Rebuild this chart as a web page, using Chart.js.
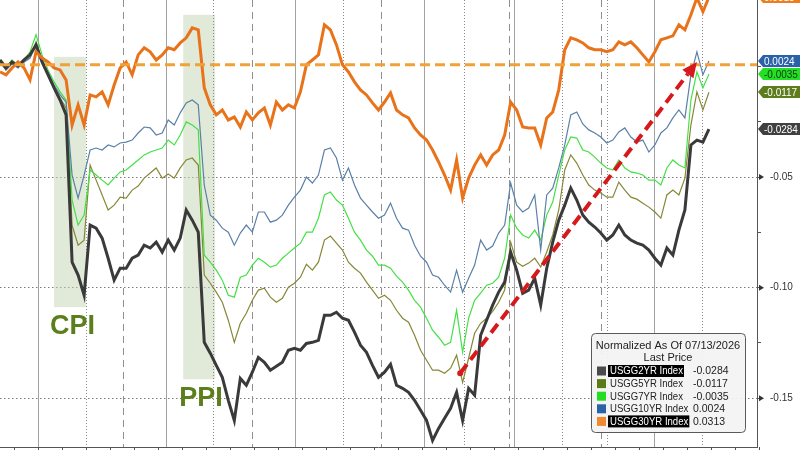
<!DOCTYPE html>
<html>
<head>
<meta charset="utf-8">
<title>USGG curve, normalized</title>
<script src="https://cdn.jsdelivr.net/npm/chart.js@4.4.1/dist/chart.umd.min.js"></script>
<style>
  html, body { margin: 0; padding: 0; background: #fff; }
  #wrap { width: 800px; height: 450px; }
</style>
</head>
<body>
<div id="wrap"><canvas id="chart" width="800" height="450"></canvas></div>
<script>
// Time steps (intraday samples); only the first 119 carry data, the rest is empty space
const steps = Array.from({ length: 127 }, (_, i) => i);

// Normalized yield changes
const usgg2yr = [
    0.0029, -0.0007, 0.0020, 0.0002, 0.0029, 0.0052, 0.0097, 0.0020, -0.0038, -0.0097,
    -0.0152, -0.0219, -0.0885, -0.0943, -0.1034, -0.0717, -0.0731, -0.0776, -0.0867, -0.0966,
    -0.0912, -0.0912, -0.0867, -0.0853, -0.0808, -0.0821, -0.0794, -0.0839, -0.0785, -0.0830,
    -0.0776, -0.0649, -0.0695, -0.0749, -0.1247, -0.1296, -0.1351, -0.1405, -0.1509, -0.1600,
    -0.1410, -0.1441, -0.1382, -0.1315, -0.1337, -0.1373, -0.1355, -0.1337, -0.1283, -0.1274,
    -0.1283, -0.1252, -0.1247, -0.1238, -0.1125, -0.1125, -0.1111, -0.1138, -0.1147, -0.1201,
    -0.1260, -0.1292, -0.1351, -0.1405, -0.1382, -0.1346, -0.1441, -0.1455, -0.1473, -0.1509,
    -0.1554, -0.1600, -0.1690, -0.1636, -0.1590, -0.1545, -0.1473, -0.1600, -0.1455, -0.1486,
    -0.1215, -0.1147, -0.1079, -0.1020, -0.0975, -0.0839, -0.0921, -0.1025, -0.1011, -0.0957,
    -0.1079, -0.0912, -0.0794, -0.0695, -0.0627, -0.0550, -0.0604, -0.0672, -0.0704, -0.0726,
    -0.0753, -0.0785, -0.0762, -0.0717, -0.0762, -0.0785, -0.0799, -0.0808, -0.0830, -0.0867,
    -0.0898, -0.0821, -0.0853, -0.0740, -0.0649, -0.0355, -0.0333, -0.0342, -0.0284
];
const usgg5yr = [
    0.0020, -0.0016, 0.0016, -0.0002, 0.0020, 0.0038, 0.0111, 0.0029, -0.0034, -0.0097,
    -0.0143, -0.0188, -0.0717, -0.0808, -0.0785, -0.0446, -0.0514, -0.0581, -0.0649, -0.0627,
    -0.0591, -0.0595, -0.0559, -0.0541, -0.0505, -0.0482, -0.0459, -0.0505, -0.0486, -0.0505,
    -0.0459, -0.0423, -0.0414, -0.0446, -0.0943, -0.0980, -0.1020, -0.1066, -0.1147, -0.1247,
    -0.1161, -0.1116, -0.1057, -0.1011, -0.1002, -0.1043, -0.1066, -0.1048, -0.0998, -0.0980,
    -0.0953, -0.0894, -0.0921, -0.0885, -0.0785, -0.0767, -0.0799, -0.0830, -0.0885, -0.0912,
    -0.0934, -0.0975, -0.1011, -0.1048, -0.1034, -0.1057, -0.1102, -0.1138, -0.1156, -0.1215,
    -0.1283, -0.1328, -0.1373, -0.1373, -0.1387, -0.1364, -0.1305, -0.1428, -0.1319, -0.1206,
    -0.1161, -0.1138, -0.1107, -0.1066, -0.1011, -0.0794, -0.0885, -0.0903, -0.0889, -0.0867,
    -0.0907, -0.0839, -0.0762, -0.0649, -0.0468, -0.0400, -0.0437, -0.0491, -0.0536, -0.0559,
    -0.0572, -0.0591, -0.0591, -0.0523, -0.0559, -0.0591, -0.0600, -0.0618, -0.0636, -0.0658,
    -0.0686, -0.0581, -0.0559, -0.0581, -0.0505, -0.0265, -0.0115, -0.0197, -0.0117
];
const usgg7yr = [
    0.0029, -0.0007, 0.0029, 0.0002, 0.0029, 0.0066, 0.0143, 0.0052, -0.0016, -0.0070,
    -0.0115, -0.0152, -0.0604, -0.0717, -0.0672, -0.0468, -0.0491, -0.0514, -0.0536, -0.0505,
    -0.0477, -0.0468, -0.0446, -0.0423, -0.0400, -0.0387, -0.0378, -0.0369, -0.0333, -0.0355,
    -0.0310, -0.0251, -0.0265, -0.0287, -0.0853, -0.0885, -0.0921, -0.0966, -0.1034, -0.1043,
    -0.0953, -0.0943, -0.0898, -0.0867, -0.0885, -0.0907, -0.0898, -0.0867, -0.0844, -0.0821,
    -0.0799, -0.0749, -0.0749, -0.0686, -0.0581, -0.0568, -0.0604, -0.0627, -0.0686, -0.0749,
    -0.0785, -0.0830, -0.0858, -0.0898, -0.0898, -0.0912, -0.0948, -0.0975, -0.1011, -0.1057,
    -0.1088, -0.1138, -0.1192, -0.1224, -0.1260, -0.1247, -0.1102, -0.1292, -0.1138, -0.1057,
    -0.1025, -0.0989, -0.0980, -0.0953, -0.0867, -0.0672, -0.0731, -0.0762, -0.0776, -0.0740,
    -0.0785, -0.0672, -0.0613, -0.0491, -0.0378, -0.0319, -0.0324, -0.0378, -0.0387, -0.0410,
    -0.0437, -0.0459, -0.0468, -0.0423, -0.0459, -0.0477, -0.0482, -0.0491, -0.0514, -0.0514,
    -0.0536, -0.0459, -0.0423, -0.0446, -0.0459, -0.0152, -0.0025, -0.0097, -0.0035
];
const usgg10yr = [
    0.0020, -0.0016, 0.0011, -0.0007, 0.0020, 0.0038, 0.0097, 0.0029, -0.0025, -0.0084,
    -0.0129, -0.0161, -0.0491, -0.0595, -0.0491, -0.0378, -0.0369, -0.0378, -0.0355, -0.0364,
    -0.0346, -0.0342, -0.0333, -0.0301, -0.0274, -0.0278, -0.0310, -0.0301, -0.0242, -0.0265,
    -0.0210, -0.0165, -0.0152, -0.0174, -0.0536, -0.0672, -0.0695, -0.0731, -0.0749, -0.0808,
    -0.0753, -0.0717, -0.0749, -0.0658, -0.0658, -0.0704, -0.0695, -0.0672, -0.0627, -0.0591,
    -0.0559, -0.0500, -0.0527, -0.0491, -0.0378, -0.0369, -0.0414, -0.0514, -0.0459, -0.0536,
    -0.0595, -0.0627, -0.0658, -0.0686, -0.0672, -0.0618, -0.0686, -0.0731, -0.0740, -0.0808,
    -0.0858, -0.0885, -0.0943, -0.0953, -0.0989, -0.1020, -0.0921, -0.1020, -0.0957, -0.0898,
    -0.0785, -0.0830, -0.0812, -0.0753, -0.0717, -0.0527, -0.0627, -0.0658, -0.0640, -0.0581,
    -0.0830, -0.0581, -0.0550, -0.0459, -0.0355, -0.0219, -0.0206, -0.0260, -0.0287, -0.0301,
    -0.0319, -0.0346, -0.0333, -0.0296, -0.0278, -0.0319, -0.0342, -0.0333, -0.0387, -0.0355,
    -0.0301, -0.0278, -0.0233, -0.0197, -0.0233, -0.0038, 0.0066, -0.0038, 0.0024
];
const usgg30yr = [
    -0.0025, -0.0038, -0.0007, 0.0020, -0.0007, -0.0061, 0.0066, 0.0038, 0.0020, -0.0007,
    -0.0016, -0.0061, -0.0265, -0.0174, -0.0265, -0.0129, -0.0138, -0.0115, -0.0174, -0.0084,
    -0.0007, 0.0020, -0.0038, 0.0052, 0.0084, 0.0066, 0.0029, 0.0052, 0.0084, 0.0075,
    0.0106, 0.0129, 0.0174, 0.0165, -0.0097, -0.0174, -0.0219, -0.0197, -0.0242, -0.0229,
    -0.0274, -0.0206, -0.0242, -0.0210, -0.0188, -0.0265, -0.0161, -0.0197, -0.0174, -0.0188,
    -0.0115, 0.0007, 0.0029, 0.0052, 0.0188, 0.0165, 0.0097, 0.0007, -0.0025, -0.0070,
    -0.0106, -0.0129, -0.0165, -0.0197, -0.0161, -0.0120, -0.0197, -0.0219, -0.0233, -0.0278,
    -0.0310, -0.0333, -0.0378, -0.0432, -0.0491, -0.0559, -0.0423, -0.0595, -0.0505, -0.0446,
    -0.0400, -0.0446, -0.0400, -0.0378, -0.0310, -0.0161, -0.0197, -0.0274, -0.0278, -0.0278,
    -0.0355, -0.0233, -0.0206, -0.0106, 0.0075, 0.0129, 0.0120, 0.0106, 0.0084, 0.0075,
    0.0075, 0.0066, 0.0075, 0.0111, 0.0097, 0.0111, 0.0084, 0.0052, 0.0020, 0.0066,
    0.0120, 0.0129, 0.0138, 0.0188, 0.0165, 0.0233, 0.0310, 0.0247, 0.0313
];

const seriesNames = ['USGG2YR Index', 'USGG5YR Index', 'USGG7YR Index', 'USGG10YR Index', 'USGG30YR Index'];
const lastPrices = [-0.0284, -0.0117, -0.0035, 0.0024, 0.0313];
const yTicks = [-0.15, -0.125, -0.10, -0.075, -0.05, -0.025, 0];
const yLabelTicks = [-0.15, -0.10, -0.05];
const legendTitle = 'Normalized As Of 07/13/2026';
const legendSubtitle = 'Last Price';
const refLevel = 0.0007;

// Event windows and the arrow, in (step, value) units
const eventBands = [
    { label: 'CPI', from: 9.0, to: 14.3, top: 0.0043, bottom: -0.1088 },
    { label: 'PPI', from: 30.5, to: 35.8, top: 0.0233, bottom: -0.1414 }
];
const arrowFrom = { x: 76.6, y: -0.1387 };
const arrowTo = { x: 116.0, y: 0.0020 };

// Session separators on the time axis
const solidLines = [6.3, 27.6, 49.1, 70.5, 85.6, 108.9];
const dottedLines = [14.3, 35.5, 57.1, 77.2, 93.5, 101.0, 116.8];
const dashedLines = [20.5, 41.9, 63.4, 84.7, 100.0];

const FONT = '"Liberation Sans", Arial, sans-serif';
const lineColors = ['#3a3a3a', '#878737', '#45e045', '#5b80a8', '#e8731a'];
const swatchColors = ['#4a4a4a', '#5a7a18', '#22dd22', '#2a62a8', '#f08a30'];
const tagColors = ['#404040', '#5d7d1d', '#22e022', '#2a62a8', '#ee7d1f'];
const tagText = ['#fff', '#fff', '#143814', '#fff', '#fff'];

document.addEventListener('DOMContentLoaded', function() {
    const overlay = {
        id: 'overlay',
        beforeDatasetsDraw(chart) {
            const { ctx, chartArea: a, scales: { x, y } } = chart;
            ctx.save();

            // shaded event windows
            ctx.fillStyle = 'rgba(196, 211, 178, 0.5)';
            eventBands.forEach(b => {
                const x0 = x.getPixelForValue(b.from), x1 = x.getPixelForValue(b.to);
                const y0 = y.getPixelForValue(b.top), y1 = y.getPixelForValue(b.bottom);
                ctx.fillRect(x0, y0, x1 - x0, y1 - y0);
            });

            // vertical separators
            const vline = (pos, color, dash) => {
                const px = Math.round(x.getPixelForValue(pos)) + 0.5;
                ctx.strokeStyle = color;
                ctx.lineWidth = 1;
                ctx.setLineDash(dash);
                ctx.beginPath();
                ctx.moveTo(px, a.top);
                ctx.lineTo(px, a.bottom);
                ctx.stroke();
            };
            solidLines.forEach(p => vline(p, '#a3a3a3', []));
            dottedLines.forEach(p => vline(p, '#8a8a8a', [1, 2]));
            dashedLines.forEach(p => vline(p, '#8f8f8f', [7, 5]));
            ctx.restore();
        },
        afterDatasetsDraw(chart) {
            const { ctx, chartArea: a, scales: { x, y } } = chart;
            ctx.save();

            // reference level
            const ry = y.getPixelForValue(refLevel);
            ctx.strokeStyle = '#f0a239';
            ctx.lineWidth = 3;
            ctx.setLineDash([10, 5]);
            ctx.beginPath();
            ctx.moveTo(a.left, ry);
            ctx.lineTo(a.right, ry);
            ctx.stroke();

            // event labels
            ctx.setLineDash([]);
            ctx.fillStyle = '#5b7f1c';
            ctx.font = 'bold 27px ' + FONT;
            ctx.textAlign = 'left';
            ctx.textBaseline = 'alphabetic';
            eventBands.forEach(b => {
                ctx.fillText(b.label, x.getPixelForValue(b.from) - 4, y.getPixelForValue(b.bottom) + 27);
            });

            // red dashed arrow
            const x0 = x.getPixelForValue(arrowFrom.x), y0 = y.getPixelForValue(arrowFrom.y);
            const x1 = x.getPixelForValue(arrowTo.x), y1 = y.getPixelForValue(arrowTo.y);
            const ang = Math.atan2(y1 - y0, x1 - x0);
            const head = 15;
            ctx.strokeStyle = '#d7191c';
            ctx.fillStyle = '#d7191c';
            ctx.lineWidth = 4;
            ctx.setLineDash([11, 6]);
            ctx.beginPath();
            ctx.moveTo(x0, y0);
            ctx.lineTo(x1 - head * Math.cos(ang), y1 - head * Math.sin(ang));
            ctx.stroke();
            ctx.setLineDash([]);
            ctx.beginPath();
            ctx.moveTo(x1, y1);
            ctx.lineTo(x1 - head * Math.cos(ang) + 7 * Math.sin(ang), y1 - head * Math.sin(ang) - 7 * Math.cos(ang));
            ctx.lineTo(x1 - head * Math.cos(ang) - 7 * Math.sin(ang), y1 - head * Math.sin(ang) + 7 * Math.cos(ang));
            ctx.closePath();
            ctx.fill();
            ctx.beginPath();
            ctx.arc(x0, y0, 3, 0, Math.PI * 2);
            ctx.fill();
            ctx.restore();
        },
        afterDraw(chart) {
            const { ctx, chartArea: a, scales: { x, y } } = chart;
            ctx.save();

            // bottom axis with small ticks
            ctx.strokeStyle = '#555';
            ctx.lineWidth = 1;
            ctx.beginPath();
            ctx.moveTo(a.left, a.bottom + 0.5);
            ctx.lineTo(a.right, a.bottom + 0.5);
            for (let s = 2.3; s < steps.length; s += 4) {
                const px = Math.round(x.getPixelForValue(s)) + 0.5;
                ctx.moveTo(px, a.bottom);
                ctx.lineTo(px, a.bottom + 4);
            }
            ctx.stroke();

            // markers on labelled ticks
            ctx.fillStyle = '#333';
            yLabelTicks.forEach(v => {
                const py = y.getPixelForValue(v);
                ctx.beginPath();
                ctx.moveTo(a.right + 7, py);
                ctx.lineTo(a.right + 2, py - 3);
                ctx.lineTo(a.right + 2, py + 3);
                ctx.closePath();
                ctx.fill();
            });

            // last-price tags on the right axis
            ctx.font = '10px ' + FONT;
            ctx.textAlign = 'left';
            ctx.textBaseline = 'middle';
            lastPrices.forEach((v, i) => {
                const py = Math.round(y.getPixelForValue(v));
                ctx.fillStyle = tagColors[i];
                ctx.beginPath();
                ctx.moveTo(a.right + 1, py);
                ctx.lineTo(a.right + 6, py - 6);
                ctx.lineTo(800, py - 6);
                ctx.lineTo(800, py + 6);
                ctx.lineTo(a.right + 6, py + 6);
                ctx.closePath();
                ctx.fill();
                ctx.fillStyle = tagText[i];
                ctx.fillText(v.toFixed(4), a.right + 7, py + 1);
            });

            // legend box
            const bx = 591, by = 333, bw = 154, bh = 99;
            ctx.fillStyle = 'rgba(243, 243, 243, 0.93)';
            ctx.strokeStyle = '#5a5a5a';
            ctx.beginPath();
            ctx.roundRect(bx + 0.5, by + 0.5, bw, bh, 4);
            ctx.fill();
            ctx.stroke();
            ctx.fillStyle = '#222';
            ctx.font = '11px ' + FONT;
            ctx.textAlign = 'center';
            ctx.fillText(legendTitle, bx + bw / 2, by + 13);
            ctx.fillText(legendSubtitle, bx + bw / 2, by + 25);

            ctx.font = '10.5px ' + FONT;
            ctx.textAlign = 'left';
            // names are set a bit condensed, like the terminal font
            const squeeze = 73 / ctx.measureText(seriesNames[0]).width;
            seriesNames.forEach((name, i) => {
                const ry = by + 38 + i * 12.6;
                const w = ctx.measureText(name).width * squeeze;
                ctx.fillStyle = swatchColors[i];
                ctx.fillRect(bx + 6, ry - 4.5, 9, 9);
                const highlighted = (i === 0 || i === 4);
                if (highlighted) {
                    ctx.fillStyle = '#000';
                    ctx.fillRect(bx + 17, ry - 6, w + 3, 12);
                }
                ctx.fillStyle = highlighted ? '#fff' : '#222';
                ctx.fillText(name, bx + 19, ry + 0.5, w);
                ctx.fillStyle = '#222';
                ctx.fillText(lastPrices[i].toFixed(4), bx + 102, ry + 0.5);
            });
            ctx.restore();
        }
    };

    const series = [usgg2yr, usgg5yr, usgg7yr, usgg10yr, usgg30yr];
    const widths = [3, 1.2, 1.2, 1.2, 3];
    const orders = [1, 4, 3, 2, 0];

    new Chart(document.getElementById('chart').getContext('2d'), {
        type: 'line',
        data: {
            labels: steps,
            datasets: series.map((data, i) => ({
                label: seriesNames[i],
                data: data,
                borderColor: lineColors[i],
                borderWidth: widths[i],
                pointRadius: 0,
                tension: 0,
                order: orders[i]
            }))
        },
        options: {
            responsive: false,
            animation: false,
            devicePixelRatio: 1,
            events: [],
            layout: { padding: { left: 0, right: 0, top: 0, bottom: 3 } },
            plugins: {
                legend: { display: false },
                tooltip: { enabled: false }
            },
            scales: {
                x: {
                    type: 'category',
                    display: false
                },
                y: {
                    position: 'right',
                    min: -0.172,
                    max: 0.030,
                    afterBuildTicks: scale => {
                        scale.ticks = yTicks.map(v => ({ value: v }));
                    },
                    afterFit: scale => {
                        scale.width = 43;
                        scale.paddingTop = 0;
                        scale.paddingBottom = 0;
                    },
                    ticks: {
                        autoSkip: false,
                        padding: 9,
                        color: '#333',
                        font: { family: FONT, size: 10 },
                        callback: v => yLabelTicks.includes(v) ? v.toFixed(2) : ''
                    },
                    grid: {
                        color: c => (c.tick && yLabelTicks.includes(c.tick.value)) ? '#7a7a7a' : 'rgba(0,0,0,0)',
                        tickColor: '#555',
                        tickLength: 4,
                        tickBorderDash: [],
                        lineWidth: 1
                    },
                    border: { display: true, color: '#555', width: 1, dash: [1.5, 2.5] }
                }
            }
        },
        plugins: [overlay]
    });
});
</script>
</body>
</html>
